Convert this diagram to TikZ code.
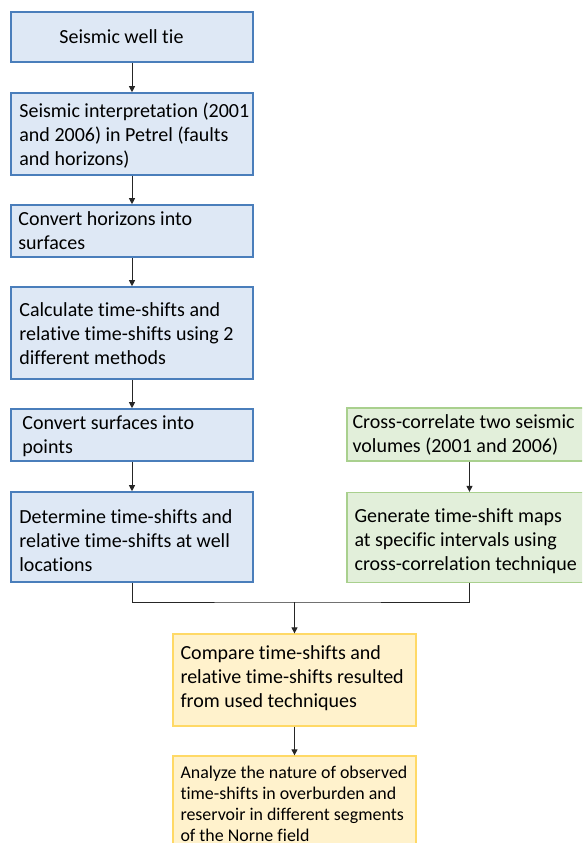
\documentclass[tikz,border=0pt]{standalone}
\usepackage{fontspec}
\setmainfont{Carlito}[Ligatures={NoCommon,NoRequired,NoContextual},RawFeature={-liga;-clig;-calt}]
\usetikzlibrary{arrows.meta}
\definecolor{bfill}{HTML}{DEE8F5}
\definecolor{bdraw}{HTML}{4A7EBB}
\definecolor{gfill}{HTML}{E2EFDA}
\definecolor{gdraw}{HTML}{A9D08E}
\definecolor{yfill}{HTML}{FFF2CC}
\definecolor{ydraw}{HTML}{FFD966}
\definecolor{lcol}{HTML}{262626}
\tikzset{
  bluebox/.style={draw=bdraw, fill=bfill, line width=1.6pt, minimum width=242pt, inner sep=0pt},
  greenbox/.style={draw=gdraw, fill=gfill, line width=1.3pt, minimum width=245pt, inner sep=0pt},
  yellowbox/.style={draw=ydraw, fill=yfill, line width=1.3pt, minimum width=243pt, inner sep=0pt},
  txt/.style={anchor=west, align=left, inner sep=0pt, font=\fontsize{20}{24}\selectfont},
  smalltxt/.style={anchor=west, align=left, inner sep=0pt, font=\fontsize{17.9}{21}\selectfont},
  conn/.style={draw=lcol, line width=1pt},
  arr/.style={conn, -{Triangle[length=6pt,width=6pt]}}
}
\begin{document}
\begin{tikzpicture}[x=1pt,y=-1pt]
\useasboundingbox (0,0) rectangle (582,843);
\clip (0,0) rectangle (582,843);
\fill[white] (0,0) rectangle (582,843);
% blue column
\node[bluebox, minimum height=50pt] (b1) at (132,37) {};
\node[bluebox, minimum height=82pt] (b2) at (132,134) {};
\node[bluebox, minimum height=52pt] (b3) at (132,231) {};
\node[bluebox, minimum height=92pt] (b4) at (132,333) {};
\node[bluebox, minimum height=52pt] (b5) at (132,435) {};
\node[bluebox, minimum height=90pt] (b6) at (132,537) {};
% green column
\node[greenbox, minimum height=53pt] (g1) at (469.5,434.5) {};
\node[greenbox, minimum height=90pt] (g2) at (469.5,537.5) {};
% yellow
\node[yellowbox, minimum height=92pt] (y1) at (294.5,680) {};
\node[yellowbox, minimum height=100pt] (y2) at (294.5,806) {};
% texts
\node[txt] (t1) at ([xshift=49pt]b1.west) {Seismic well tie};
\node[txt] (t2) at ([xshift=9pt,yshift=-1.5pt]b2.west) {Seismic interpretation (2001\\and 2006) in Petrel (faults\\and horizons)};
\node[txt] (t3) at ([xshift=8pt]b3.west) {Convert horizons into\\surfaces};
\node[txt] (t4) at ([xshift=9pt,yshift=-1pt]b4.west) {Calculate time-shifts and\\relative time-shifts using 2\\different methods};
\node[txt] (t5) at ([xshift=12pt,yshift=-1pt]b5.west) {Convert surfaces into\\points};
\node[txt] (t6) at ([xshift=9pt,yshift=-3.5pt]b6.west) {Determine time-shifts and\\relative time-shifts at well\\locations};
\node[txt] (t7) at ([xshift=6pt]g1.west) {Cross-correlate two seismic\\volumes (2001 and 2006)};
\node[txt] (t8) at ([xshift=8pt,yshift=-3.5pt]g2.west) {Generate time-shift maps\\at specific intervals using\\cross-correlation technique};
\node[txt] (t9) at ([xshift=8pt,yshift=1.5pt]y1.west) {Compare time-shifts and\\relative time-shifts resulted\\from used techniques};
\node[smalltxt] (t10) at ([xshift=8pt,yshift=2pt]y2.west) {Analyze the nature of observed\\time-shifts in overburden and\\reservoir in different segments\\of the Norne field};
% connectors
\draw[arr] (b1) -- (b2);
\draw[arr] (b2) -- (b3);
\draw[arr] (b3) -- (b4);
\draw[arr] (b4) -- (b5);
\draw[arr] (b5) -- (b6);
\draw[arr] (g1) -- (g2);
\coordinate (j) at (y1.north |- 0,602);
\draw[conn] (b6.south) |- (j) -| (g2.south);
\draw[arr] (j) -- (y1.north);
\draw[arr] (y1) -- (y2);
\end{tikzpicture}
\end{document}
